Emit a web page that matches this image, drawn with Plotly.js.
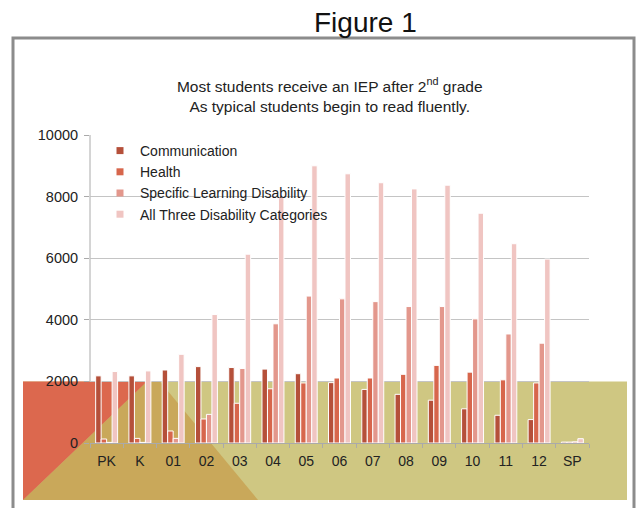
<!DOCTYPE html>
<html>
<head>
<meta charset="utf-8">
<script src="https://cdn.plot.ly/plotly-3.0.1.min.js"></script>
<style>html,body{margin:0;padding:0;background:#fff;}#chart{width:639px;height:508px;}</style>
</head>
<body>
<div id="chart"></div>
<script>
var grades = ["PK","K","01","02","03","04","05","06","07","08","09","10","11","12","SP"];
var communication = [2180,2180,2370,2480,2450,2400,2250,1960,1740,1580,1390,1110,900,760,30];
var health        = [130,150,390,780,1290,1760,1950,2110,2110,2230,2520,2300,2050,1950,30];
var sld           = [20,20,150,930,2420,3870,4770,4680,4590,4430,4430,4030,3540,3240,40];
var allThree      = [2320,2340,2880,4170,6130,8000,9000,8740,8450,8250,8370,7460,6470,5970,140];
var seriesNames = ["Communication","Health","Specific Learning Disability","All Three Disability Categories"];
var seriesColors = ["#b5503a","#d7664c","#e3978c","#f0c5c2"];
var seriesValues = [communication, health, sld, allThree];
var yTickVals = [0,2000,4000,6000,8000,10000];
var yTickText = ["0","2000","4000","6000","8000","10000"];

var traces = [];
seriesValues.forEach(function(vals, i){
  traces.push({type:"bar", x:grades, y:vals, name:seriesNames[i], showlegend:false,
    marker:{color:seriesColors[i], line:{color:"#ffffff", width:1}}, hoverinfo:"x+y+name"});
});
seriesNames.forEach(function(n, i){
  traces.push({type:"scatter", mode:"markers", x:[null], y:[null], name:n,
    marker:{symbol:"square", size:7, color:seriesColors[i]}});
});

function px(x){ return (x-90)/499; }
function py(y){ return (443-y)/308; }

var layout = {
  width:639, height:508,
  margin:{l:90, r:50, t:135, b:65},
  paper_bgcolor:"#ffffff",
  plot_bgcolor:"rgba(0,0,0,0)",
  font:{family:"Liberation Sans, Arial, sans-serif", size:14, color:"#222"},
  barmode:"group", bargap:0.34, bargroupgap:0,
  title:{text:"Most students receive an IEP after 2<sup>nd</sup> grade<br>As typical students begin to read fluently.",
    x:0.516, xanchor:"center", y:1-92/508, yanchor:"top",
    font:{family:"Liberation Sans, Arial, sans-serif", size:15.5, color:"#222"}},
  xaxis:{type:"category", showgrid:false, showline:true, linecolor:"#aaaaaa", linewidth:1,
    ticks:"outside", ticklen:4, tickcolor:"#aaaaaa", tickson:"boundaries", ticklabelstandoff:5,
    tickfont:{size:14, color:"#222"}},
  yaxis:{range:[0,10000], tickvals:yTickVals, ticktext:yTickText, showgrid:true, gridcolor:"#c4c4c4",
    gridwidth:1, showline:false, ticks:"outside", ticklen:5, tickcolor:"#aaaaaa",
    ticklabelstandoff:3, zeroline:false, tickfont:{size:14.5, color:"#222"}},
  legend:{x:px(100), y:py(135), xanchor:"left", yanchor:"top", bgcolor:"rgba(0,0,0,0)",
    font:{size:14, color:"#222"}, tracegroupgap:0, itemwidth:30},
  shapes:[
    {type:"rect", xref:"paper", yref:"paper", x0:px(13), x1:px(634), y0:py(530), y1:py(38),
      line:{color:"#8c8c8c", width:3}, fillcolor:"rgba(0,0,0,0)", layer:"below"},
    {type:"rect", xref:"paper", yref:"paper", x0:px(23), x1:px(627), y0:py(500), y1:0.2,
      line:{width:0}, fillcolor:"#cfc782", layer:"below"},
    {type:"path", xref:"paper", yref:"paper",
      path:"M"+px(147)+","+0.2+" L"+px(160)+","+0.2+" L"+px(258)+","+py(500)+" L"+px(23)+","+py(500)+" Z",
      line:{width:0}, fillcolor:"#c9a85a", layer:"below"},
    {type:"path", xref:"paper", yref:"paper",
      path:"M"+px(23)+","+0.2+" L"+px(147)+","+0.2+" L"+px(23)+","+py(500)+" Z",
      line:{width:0}, fillcolor:"#dc684e", layer:"below"},
    {type:"line", xref:"paper", yref:"paper", x0:0, x1:0, y0:0.2, y1:1,
      line:{color:"#aaaaaa", width:1}, layer:"below"}
  ],
  annotations:[
    {text:"Figure 1", xref:"paper", yref:"paper", x:px(365), y:py(22), xanchor:"center", yanchor:"middle",
      showarrow:false, font:{family:"Liberation Sans, Arial, sans-serif", size:28, color:"#111"}}
  ]
};
Plotly.newPlot("chart", traces, layout, {displayModeBar:false, staticPlot:true});
</script>
</body>
</html>
